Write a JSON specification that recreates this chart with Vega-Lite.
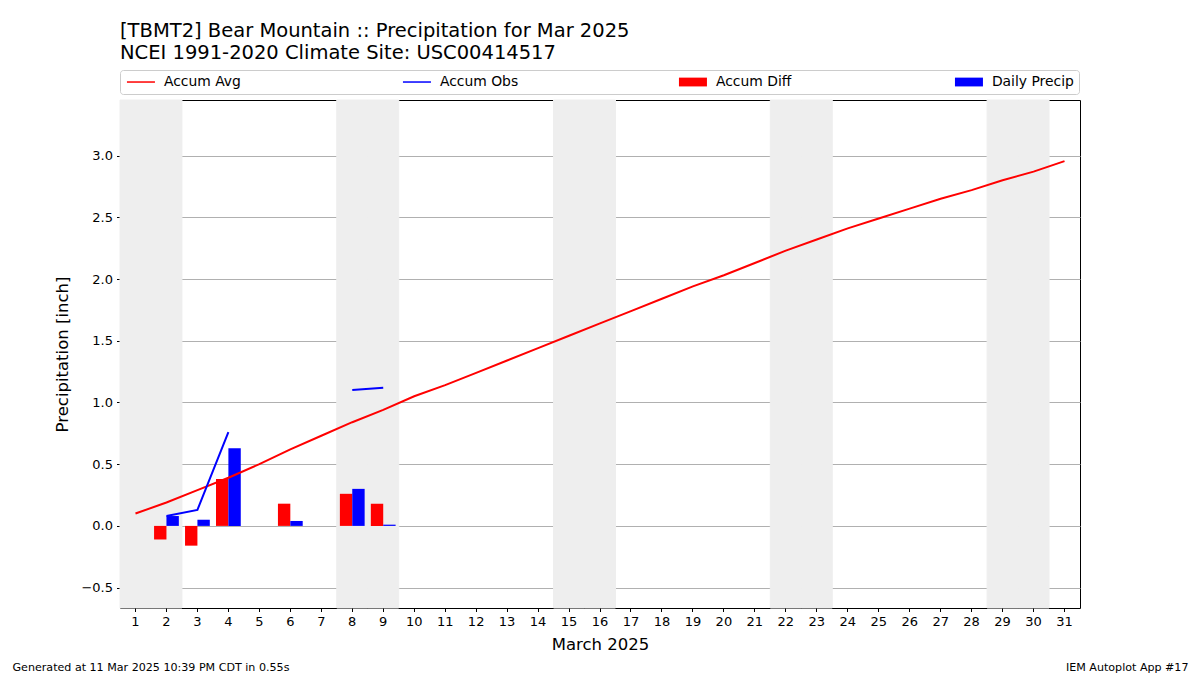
{
  "$schema": "https://vega.github.io/schema/vega-lite/v6.json",
  "autosize": {"type": "none"},
  "width": 960,
  "height": 508,
  "padding": {"left": 120, "top": 100, "right": 120, "bottom": 67},
  "background": "white",
  "title": {
    "text": ["[TBMT2] Bear Mountain :: Precipitation for Mar 2025", "NCEI 1991-2020 Climate Site: USC00414517"],
    "anchor": "start",
    "frame": "group",
    "font": "DejaVu Sans",
    "fontSize": 19.5,
    "fontWeight": "normal",
    "color": "#000000",
    "lineHeight": 22,
    "offset": 6
  },
  "config": {
    "font": "DejaVu Sans",
    "view": {"stroke": "#000000", "strokeWidth": 1},
    "axis": {
      "labelFont": "DejaVu Sans",
      "labelFontSize": 13,
      "labelColor": "#000000",
      "titleFont": "DejaVu Sans",
      "titleFontSize": 16.5,
      "titleFontWeight": "normal",
      "titleColor": "#000000",
      "tickColor": "#000000",
      "tickSize": 3.5,
      "labelPadding": 4,
      "domain": false
    }
  },
  "data": {
    "values": [
      {"day": 1, "avg": 0.10, "obs": null, "diff": null, "precip": null, "weekend": true},
      {"day": 2, "avg": 0.19, "obs": 0.08, "diff": -0.11, "precip": 0.08, "weekend": true},
      {"day": 3, "avg": 0.29, "obs": 0.13, "diff": -0.16, "precip": 0.05, "weekend": false},
      {"day": 4, "avg": 0.39, "obs": 0.76, "diff": 0.38, "precip": 0.63, "weekend": false},
      {"day": 5, "avg": 0.50, "obs": null, "diff": null, "precip": null, "weekend": false},
      {"day": 6, "avg": 0.62, "obs": 0.80, "diff": 0.18, "precip": 0.04, "weekend": false},
      {"day": 7, "avg": 0.73, "obs": null, "diff": null, "precip": null, "weekend": false},
      {"day": 8, "avg": 0.84, "obs": 1.10, "diff": 0.26, "precip": 0.30, "weekend": true},
      {"day": 9, "avg": 0.94, "obs": 1.12, "diff": 0.18, "precip": 0.01, "weekend": true},
      {"day": 10, "avg": 1.05, "obs": null, "diff": null, "precip": null, "weekend": false},
      {"day": 11, "avg": 1.14, "obs": null, "diff": null, "precip": null, "weekend": false},
      {"day": 12, "avg": 1.24, "obs": null, "diff": null, "precip": null, "weekend": false},
      {"day": 13, "avg": 1.34, "obs": null, "diff": null, "precip": null, "weekend": false},
      {"day": 14, "avg": 1.44, "obs": null, "diff": null, "precip": null, "weekend": false},
      {"day": 15, "avg": 1.54, "obs": null, "diff": null, "precip": null, "weekend": true},
      {"day": 16, "avg": 1.64, "obs": null, "diff": null, "precip": null, "weekend": true},
      {"day": 17, "avg": 1.74, "obs": null, "diff": null, "precip": null, "weekend": false},
      {"day": 18, "avg": 1.84, "obs": null, "diff": null, "precip": null, "weekend": false},
      {"day": 19, "avg": 1.94, "obs": null, "diff": null, "precip": null, "weekend": false},
      {"day": 20, "avg": 2.03, "obs": null, "diff": null, "precip": null, "weekend": false},
      {"day": 21, "avg": 2.13, "obs": null, "diff": null, "precip": null, "weekend": false},
      {"day": 22, "avg": 2.23, "obs": null, "diff": null, "precip": null, "weekend": true},
      {"day": 23, "avg": 2.32, "obs": null, "diff": null, "precip": null, "weekend": true},
      {"day": 24, "avg": 2.41, "obs": null, "diff": null, "precip": null, "weekend": false},
      {"day": 25, "avg": 2.49, "obs": null, "diff": null, "precip": null, "weekend": false},
      {"day": 26, "avg": 2.57, "obs": null, "diff": null, "precip": null, "weekend": false},
      {"day": 27, "avg": 2.65, "obs": null, "diff": null, "precip": null, "weekend": false},
      {"day": 28, "avg": 2.72, "obs": null, "diff": null, "precip": null, "weekend": false},
      {"day": 29, "avg": 2.80, "obs": null, "diff": null, "precip": null, "weekend": true},
      {"day": 30, "avg": 2.87, "obs": null, "diff": null, "precip": null, "weekend": true},
      {"day": 31, "avg": 2.955, "obs": null, "diff": null, "precip": null, "weekend": false}
    ]
  },
  "layer": [
    {
      "transform": [{"filter": "datum.weekend"}],
      "mark": {"type": "rect", "color": "#eeeeee", "stroke": "#eeeeee", "strokeWidth": 1},
      "encoding": {
        "x": {
          "field": "day", "type": "ordinal",
          "scale": {"type": "band", "domain": [1,2,3,4,5,6,7,8,9,10,11,12,13,14,15,16,17,18,19,20,21,22,23,24,25,26,27,28,29,30,31], "paddingInner": 0, "paddingOuter": 0},
          "axis": {"orient": "bottom", "title": "March 2025", "labelAngle": 0, "titlePadding": 8, "grid": false, "ticks": true}
        }
      }
    },
    {
      "mark": {"type": "bar", "color": "#ff0000", "invalid": "filter"},
      "encoding": {
        "x": {
          "field": "day", "type": "ordinal",
          "axis": {"orient": "bottom", "title": "Generated at 11 Mar 2025 10:39 PM CDT in 0.55s", "labels": false, "ticks": false, "grid": false, "domain": false, "titleX": -108, "titleY": 62, "titleAlign": "left", "titleAnchor": "start", "titleBaseline": "alphabetic", "titleFontSize": 11.1}
        },
        "xOffset": {"datum": "Accum Diff", "type": "nominal", "scale": {"domain": ["Accum Diff", "Daily Precip"], "paddingInner": 0, "paddingOuter": 0.25}},
        "y": {
          "field": "diff", "type": "quantitative",
          "scale": {"domain": [-0.665, 3.45], "nice": false, "zero": false},
          "axis": {"title": "Precipitation [inch]", "values": [-0.5, 0, 0.5, 1, 1.5, 2, 2.5, 3], "format": ".1f", "grid": true, "gridColor": "#b0b0b0", "gridWidth": 1, "titlePadding": 10}
        },
        "color": {"datum": "Accum Diff", "type": "nominal"}
      }
    },
    {
      "mark": {"type": "bar", "color": "#0000ff", "invalid": "filter"},
      "encoding": {
        "x": {
          "field": "day", "type": "ordinal",
          "axis": {"orient": "bottom", "title": "IEM Autoplot App #17", "labels": false, "ticks": false, "grid": false, "domain": false, "titleX": 1068, "titleY": 62, "titleAlign": "right", "titleAnchor": "end", "titleBaseline": "alphabetic", "titleFontSize": 11.1}
        },
        "xOffset": {"datum": "Daily Precip", "type": "nominal"},
        "y": {"field": "precip", "type": "quantitative"},
        "color": {"datum": "Daily Precip", "type": "nominal"}
      }
    },
    {
      "mark": {"type": "line", "strokeWidth": 2, "invalid": "break-paths-filter-domains"},
      "encoding": {
        "x": {"field": "day", "type": "ordinal", "axis": null},
        "y": {"field": "avg", "type": "quantitative"},
        "color": {"datum": "Accum Avg", "type": "nominal"}
      }
    },
    {
      "mark": {"type": "line", "strokeWidth": 2, "invalid": "break-paths-filter-domains"},
      "encoding": {
        "x": {"field": "day", "type": "ordinal", "axis": null},
        "y": {"field": "obs", "type": "quantitative"},
        "color": {
          "datum": "Accum Obs", "type": "nominal",
          "scale": {"domain": ["Accum Avg", "Accum Obs", "Accum Diff", "Daily Precip"], "range": ["#ff0000", "#0000ff", "#ff0000", "#0000ff"]},
          "legend": {
            "title": null,
            "orient": "none",
            "legendX": 0,
            "legendY": -30,
            "direction": "horizontal",
            "columns": 4,
            "gridAlign": "all",
            "columnPadding": 153,
            "padding": 5,
            "strokeColor": "#cccccc",
            "fillColor": "#ffffff",
            "cornerRadius": 3,
            "labelFont": "DejaVu Sans",
            "labelFontSize": 13.9,
            "labelColor": "#000000",
            "labelOffset": 25,
            "symbolSize": 256,
            "encode": {
              "symbols": {
                "update": {
                  "shape": {"signal": "(datum.value == 'Accum Avg' || datum.value == 'Accum Obs') ? 'M-0.625,0H2.875' : 'M-0.625,-0.55H2.875V0.55H-0.625Z'"},
                  "fill": {"signal": "(datum.value == 'Accum Avg' || datum.value == 'Accum Obs') ? 'transparent' : (datum.value == 'Accum Diff' ? '#ff0000' : '#0000ff')"},
                  "stroke": {"signal": "(datum.value == 'Accum Avg' || datum.value == 'Accum Obs') ? (datum.value == 'Accum Avg' ? '#ff0000' : '#0000ff') : 'transparent'"},
                  "strokeWidth": {"signal": "(datum.value == 'Accum Avg' || datum.value == 'Accum Obs') ? 1.5 : 0"},
                  "opacity": {"value": 1}
                }
              }
            }
          }
        }
      }
    }
  ],
  "resolve": {"axis": {"x": "independent"}}
}
